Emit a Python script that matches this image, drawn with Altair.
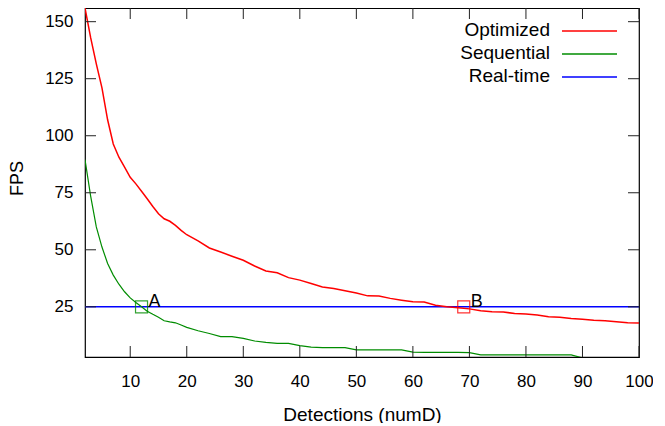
import altair as alt
import pandas as pd

# ---------------- data ----------------
detections_opt = [2, 3, 4, 5, 6, 7, 8, 9, 10, 11, 12, 13, 14, 15, 16, 17, 18, 19, 20,
                  22, 24, 26, 28, 30, 32, 34, 36, 38, 40, 42, 44, 46, 48, 50, 52, 54, 56, 58, 60,
                  62, 64, 66, 68, 70, 72, 74, 76, 78, 80, 82, 84, 86, 88, 90, 92, 94, 96, 98, 100]
fps_opt = [156, 143, 131.5, 121, 107, 96.4, 90.6, 86.2, 81.8, 78.9, 75.7, 72.4, 69.0, 65.8, 63.6, 62.5, 60.7, 58.5, 56.6,
           53.9, 50.8, 49.0, 47.2, 45.4, 42.9, 40.7, 39.9, 37.8, 36.7, 35.2, 33.7, 33.0, 32.0, 31.1, 29.8, 29.7, 28.7, 27.9, 27.2,
           27.1, 25.7, 25.0, 24.6, 24.1, 23.3, 22.8, 22.7, 22.1, 21.9, 21.4, 20.6, 20.4, 19.9, 19.6, 19.1, 18.9, 18.5, 18.0, 17.9]

detections_seq = detections_opt
fps_seq = [89.5, 73.5, 60, 51.2, 44, 38.9, 34.9, 31.6, 28.9, 26.9, 25, 23.1, 21.7, 20.4, 18.9, 18.4, 18.0, 17.0, 16.0,
           14.5, 13.3, 11.9, 11.9, 11.2, 10.0, 9.4, 9.0, 9.0, 8.0, 7.3, 7.1, 7.1, 7.1, 6.1, 6.1, 6.1, 6.1, 6.1, 5.1,
           5.0, 5.0, 5.0, 5.0, 4.9, 3.9, 3.9, 3.9, 3.9, 3.9, 3.9, 3.9, 3.9, 3.9, 2.6, 2.6, 2.6, 2.6, 2.6, 2.6]

realtime_fps = 25

series_names = ["Optimized", "Sequential", "Real-time"]
series_colors = ["#ff0000", "#008c00", "#0000ff"]

mark_x = [12, 69]
mark_y = [25, 25]
mark_labels = ["A", "B"]
mark_series = ["Sequential", "Optimized"]

x_ticks = [10, 20, 30, 40, 50, 60, 70, 80, 90, 100]
y_ticks = [25, 50, 75, 100, 125, 150]

# ---------------- chart ----------------
W, H = 554, 349
FONT = "Liberation Sans"
TICK_LEN = 11
TICK_COLOR = "#222222"

xs = alt.Scale(domain=[2, 100], nice=False, zero=False)
ys = alt.Scale(domain=[3, 156], nice=False, zero=False)
cs = alt.Scale(domain=series_names, range=series_colors)

x_axis = alt.Axis(values=x_ticks, title="Detections (numD)", ticks=False, tickSize=0, domain=False, grid=False,
                  labelFont=FONT, labelFontSize=17, labelColor="black", labelPadding=29,
                  labelBaseline="alphabetic", labelFlush=False, labelOverlap=False,
                  titleFont=FONT, titleFontSize=19, titleColor="black", titleFontWeight="normal",
                  titleY=63, titleBaseline="alphabetic")
y_axis = alt.Axis(values=y_ticks, title="FPS", ticks=False, tickSize=0, domain=False, grid=False,
                  labelFont=FONT, labelFontSize=17, labelColor="black", labelPadding=12,
                  labelFlush=False, labelOverlap=False,
                  titleFont=FONT, titleFontSize=18, titleColor="black", titleFontWeight="normal",
                  titleAngle=270, titleBaseline="middle", titleAlign="center", titleX=-68, titleY=170)


def X(field):
    return alt.X(field, scale=xs, axis=x_axis)


def Y(field):
    return alt.Y(field, scale=ys, axis=y_axis)


opt_df = pd.DataFrame({"x": detections_opt, "y": fps_opt, "series": "Optimized"})
seq_df = pd.DataFrame({"x": detections_seq, "y": fps_seq, "series": "Sequential"})

opt_line = alt.Chart(opt_df).mark_line(color=series_colors[0], strokeWidth=1.5, clip=True).encode(
    x=X("x:Q"), y=Y("y:Q"))
seq_line = alt.Chart(seq_df).mark_line(color=series_colors[1], strokeWidth=1.2, clip=True).encode(
    x=X("x:Q"), y=Y("y:Q"))
rt_line = alt.Chart(pd.DataFrame({"y": [realtime_fps]})).mark_rule(color=series_colors[2], strokeWidth=1.5).encode(
    y=Y("y:Q"))

marks_df = pd.DataFrame({"x": mark_x, "y": mark_y, "label": mark_labels, "series": mark_series})
mark_pts = alt.Chart(marks_df).mark_point(shape="square", filled=False, size=144, strokeWidth=1.2, opacity=0.8).encode(
    x=X("x:Q"), y=Y("y:Q"),
    color=alt.Color("series:N", scale=cs, legend=None),
)
mark_txt = alt.Chart(marks_df).mark_text(align="left", baseline="alphabetic", dx=7, dy=0,
                                          font=FONT, fontSize=18, color="black").encode(
    x=X("x:Q"), y=Y("y:Q"), text="label:N")

# inward mirror ticks (gnuplot style)
xt_df = pd.DataFrame({"x": x_ticks})
yt_df = pd.DataFrame({"y": y_ticks})
bottom_ticks = alt.Chart(xt_df).mark_rule(color=TICK_COLOR, strokeWidth=1).encode(
    x=X("x:Q"), y=alt.value(H), y2=alt.value(H - TICK_LEN))
top_ticks = alt.Chart(xt_df).mark_rule(color=TICK_COLOR, strokeWidth=1).encode(
    x=X("x:Q"), y=alt.value(0), y2=alt.value(TICK_LEN))
left_ticks = alt.Chart(yt_df).mark_rule(color=TICK_COLOR, strokeWidth=1).encode(
    y=Y("y:Q"), x=alt.value(0), x2=alt.value(TICK_LEN))
right_ticks = alt.Chart(yt_df).mark_rule(color=TICK_COLOR, strokeWidth=1).encode(
    y=Y("y:Q"), x=alt.value(W), x2=alt.value(W - TICK_LEN))

# legend, gnuplot style (label then sample line), top right inside
legend_layers = []
LEG_TEXT_RIGHT, LEG_LINE_X1, LEG_LINE_X2 = 465, 477, 532
LEG_Y0, LEG_DY = 23, 23
for i, (name, col) in enumerate(zip(series_names, series_colors)):
    ly = LEG_Y0 + LEG_DY * i
    ldf = pd.DataFrame({"label": [name]})
    legend_layers.append(
        alt.Chart(ldf).mark_text(align="right", baseline="middle", font=FONT, fontSize=19, color="black").encode(
            text="label:N", x=alt.value(LEG_TEXT_RIGHT), y=alt.value(ly - 1)))
    legend_layers.append(
        alt.Chart(ldf).mark_rule(color=col, strokeWidth=1.5).encode(
            x=alt.value(LEG_LINE_X1), x2=alt.value(LEG_LINE_X2), y=alt.value(ly)))

chart = alt.layer(
    rt_line, opt_line, seq_line, mark_pts, mark_txt,
    bottom_ticks, top_ticks, left_ticks, right_ticks,
    *legend_layers,
).properties(
    width=W, height=H,
    autosize=alt.AutoSizeParams(type="none"),
    padding={"left": 77, "top": 0, "right": 14, "bottom": 66},
    background="white",
).configure_view(
    stroke="black", strokeWidth=1.2,
)

chart.save("out.html", embed_options={"renderer": "svg", "actions": False})
